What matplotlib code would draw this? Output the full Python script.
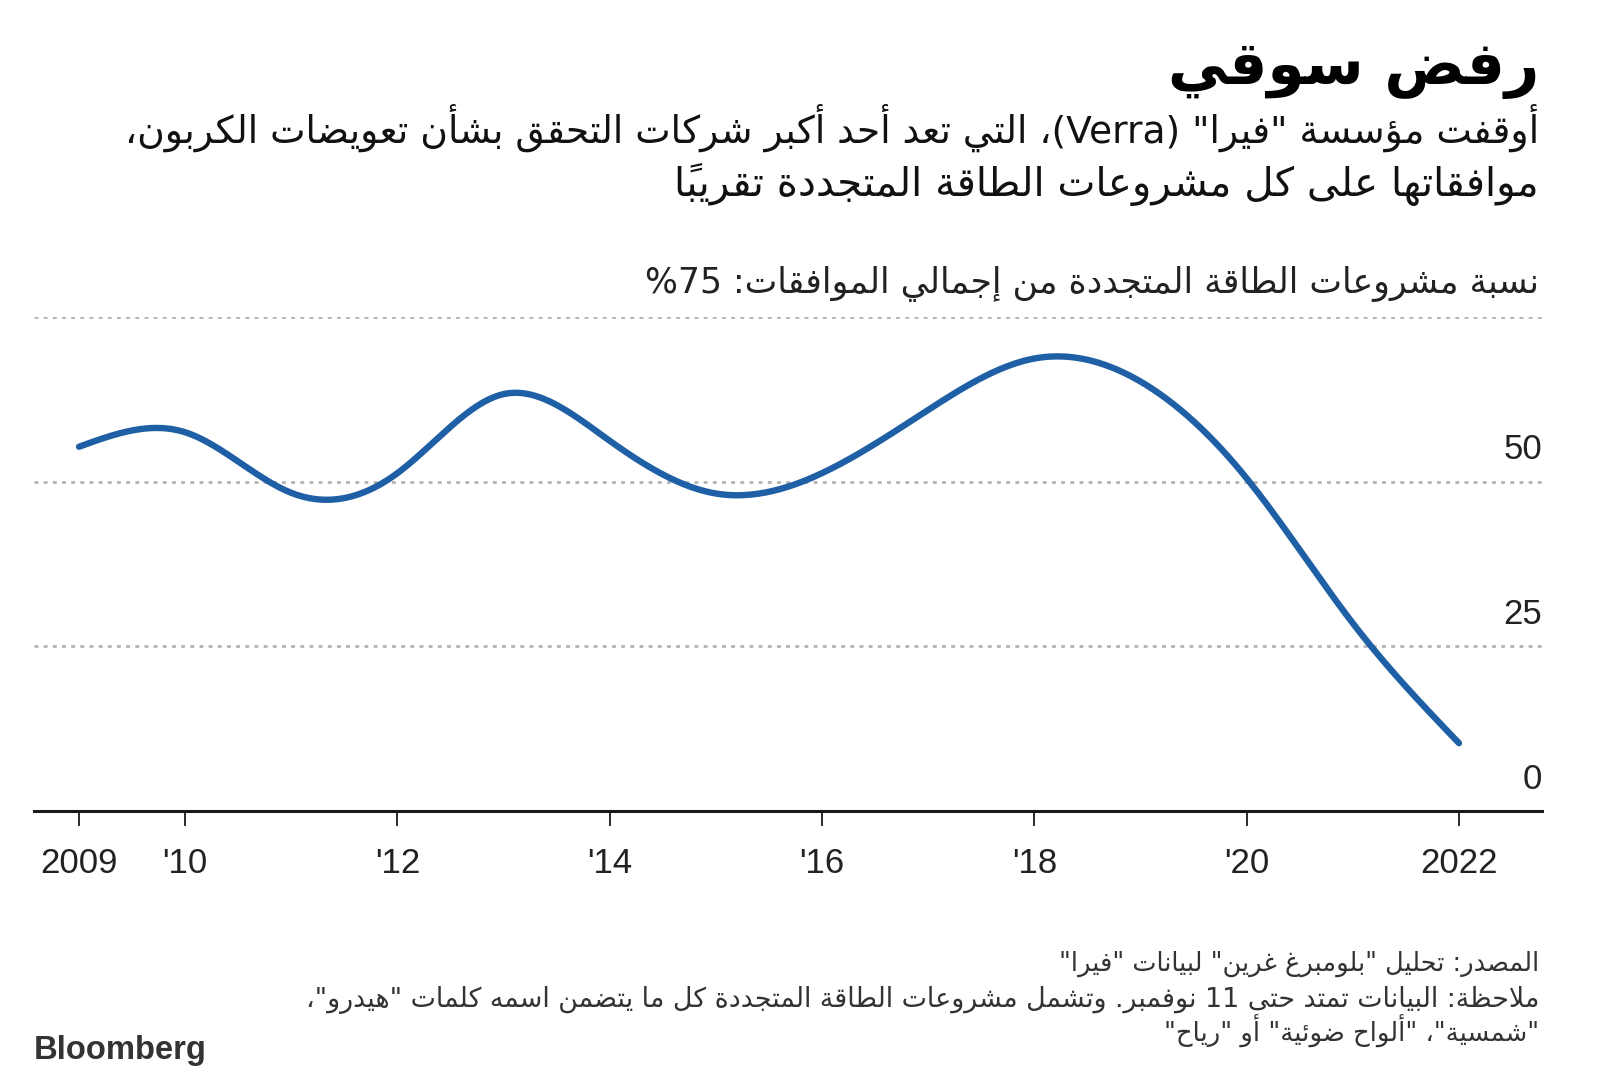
import numpy as np
import matplotlib
matplotlib.use('Agg')
import matplotlib.pyplot as plt
from matplotlib import font_manager

# --- DATOS ---
anios = [2009, 2010, 2011, 2012, 2013, 2014, 2015, 2016, 2017, 2018, 2019, 2020, 2021, 2022]
porcentaje = [55.3, 57.5, 48.3, 51.3, 63.3, 56.2, 48.2, 51.3, 60.9, 68.7, 65.2, 50.5, 28.5, 10.3]

ticks_x = [2009, 2010, 2012, 2014, 2016, 2018, 2020, 2022]
etiquetas_x = ['2009', "'10", "'12", "'14", "'16", "'18", "'20", '2022']
ticks_y = [0, 25, 50, 75]
etiquetas_y = ['0', '25', '50', '']

titulo = 'رفض سوقي'
subtitulo = ['أوقفت مؤسسة "فيرا" (Verra)، التي تعد أحد أكبر شركات التحقق بشأن تعويضات الكربون،',
             'موافقاتها على كل مشروعات الطاقة المتجددة تقريباً']
titulo_eje = 'نسبة مشروعات الطاقة المتجددة من إجمالي الموافقات: 75%'
notas = ['المصدر: تحليل "بلومبرغ غرين" لبيانات "فيرا"',
         'ملاحظة: البيانات تمتد حتى 11 نوفمبر. وتشمل مشروعات الطاقة المتجددة كل ما يتضمن اسمه كلمات "هيدرو"،',
         '"شمسية"، "ألواح ضوئية" أو "رياح"']
logo = 'Bloomberg'

W, H = 1600, 1082
AZUL = '#1f5fa5'


# --- ARABE: formas de presentacion + orden visual (matplotlib no hace shaping) ---
def tabla_formas():
    letras = [(0x0621, 1)] + [(c, 2) for c in range(0x0622, 0x0626)]
    letras += [(0x0626, 4), (0x0627, 2), (0x0628, 4), (0x0629, 2)]
    letras += [(c, 4) for c in range(0x062A, 0x062F)] + [(c, 2) for c in range(0x062F, 0x0633)]
    letras += [(c, 4) for c in range(0x0633, 0x063B)] + [(c, 4) for c in range(0x0641, 0x0648)]
    letras += [(0x0648, 2), (0x0649, 2), (0x064A, 4)]
    formas, base = {}, 0xFE80
    for c, n in letras:
        formas[chr(c)] = (base, n)
        base += n
    return formas


FORMAS = tabla_formas()
MARCAS = {chr(c) for c in range(0x064B, 0x0653)}
LAM_ALEF = {'\u0622': 0xFEF5, '\u0623': 0xFEF7, '\u0625': 0xFEF9, '\u0627': 0xFEFB}
ESPEJO = {'(': ')', ')': '('}


def unir(texto):
    ch = list(texto)
    n = len(ch)
    out = []

    def previo_une(i):
        j = i - 1
        while j >= 0 and ch[j] in MARCAS:
            j -= 1
        return j >= 0 and ch[j] in FORMAS and FORMAS[ch[j]][1] == 4

    def siguiente(i):
        j = i + 1
        while j < n and ch[j] in MARCAS:
            j += 1
        return j

    i = 0
    while i < n:
        c = ch[i]
        if c in FORMAS:
            base, k = FORMAS[c]
            p = previo_une(i)
            j = siguiente(i)
            nx = ch[j] if j < n else None
            if c == '\u0644' and nx in LAM_ALEF:
                out.append(chr(LAM_ALEF[nx] + (1 if p else 0)))
                i = j + 1
                continue
            nj = k == 4 and nx in FORMAS and FORMAS[nx][1] > 1
            if k == 1:
                f = 0
            elif k == 2:
                f = 1 if p else 0
            else:
                f = {(False, False): 0, (True, False): 1, (False, True): 2, (True, True): 3}[(p, nj)]
            out.append(chr(base + f))
        else:
            out.append(c)
        i += 1
    return ''.join(out)


def ar(texto):
    s = unir(texto)
    tramos = []
    for c in s:
        ltr = c.isascii() and c.isalnum()
        if tramos and tramos[-1][0] == ltr:
            tramos[-1][1].append(c)
        else:
            tramos.append([ltr, [c]])
    res = ''
    for ltr, seg in reversed(tramos):
        if ltr:
            res += ''.join(seg)
        else:
            grupos = []
            for c in seg:
                if c in MARCAS and grupos:
                    grupos[-1] += c
                else:
                    grupos.append(ESPEJO.get(c, c))
            res += ''.join(reversed(grupos))
    return res


def spline_natural(x, y, xs):
    x = np.asarray(x, float)
    y = np.asarray(y, float)
    n = len(x)
    h = np.diff(x)
    A = np.zeros((n, n))
    r = np.zeros(n)
    A[0, 0] = A[-1, -1] = 1
    for i in range(1, n - 1):
        A[i, i - 1] = h[i - 1]
        A[i, i] = 2 * (h[i - 1] + h[i])
        A[i, i + 1] = h[i]
        r[i] = 3 * ((y[i + 1] - y[i]) / h[i] - (y[i] - y[i - 1]) / h[i - 1])
    c = np.linalg.solve(A, r)
    b = (y[1:] - y[:-1]) / h - h * (2 * c[:-1] + c[1:]) / 3
    d = (c[1:] - c[:-1]) / (3 * h)
    idx = np.clip(np.searchsorted(x, xs) - 1, 0, n - 2)
    t = xs - x[idx]
    return y[idx] + b[idx] * t + c[idx] * t ** 2 + d[idx] * t ** 3


def texto_fig(fig, x_px, y_px, s, ancho_px, **kw):
    """Texto alineado a la derecha, ajusta el tamano al ancho medido en la referencia"""
    t = fig.text(x_px / W, 1 - y_px / H, s, ha='right', va='baseline', **kw)
    r = fig.canvas.get_renderer()
    w = t.get_window_extent(r).width
    t.set_fontsize(t.get_fontsize() * ancho_px / w)
    return t


nombres = {f.name for f in font_manager.fontManager.ttflist}
FUENTE_NUM = 'Liberation Sans Narrow' if 'Liberation Sans Narrow' in nombres else 'Liberation Sans'
FUENTE_AR = ['DejaVu Sans']

fig = plt.figure(figsize=(16, 10.82), dpi=100)
ax = fig.add_axes([34 / W, 1 - 811 / H, (1542 - 34) / W, (811 - 317) / H])
ax.set_xlim(2008.576, 2022.782)
ax.set_ylim(0, 75)

# linea suavizada
xs = np.linspace(anios[0], anios[-1], 600)
ax.plot(xs, spline_natural(anios, porcentaje, xs), color=AZUL, lw=4.6,
        solid_capstyle='round', clip_on=False, zorder=3)

for s in ['top', 'left', 'right']:
    ax.spines[s].set_visible(False)
ax.spines['bottom'].set_linewidth(2.2)
ax.spines['bottom'].set_color('#1a1a1a')
ax.spines['bottom'].set_zorder(4)

ax.set_yticks(ticks_y)
ax.tick_params(axis='y', length=0, labelleft=False)
ax.grid(axis='y', linestyle=(0, (1.4, 1.9)), linewidth=2.0, color='#b3b3b3')
ax.grid(axis='x', visible=False)
for v, etq in zip(ticks_y, etiquetas_y):
    if etq:
        ax.annotate(etq, xy=(1.0, v), xycoords=('axes fraction', 'data'), xytext=(0, 16),
                    textcoords='offset points', ha='right', va='baseline',
                    fontsize=25, family=FUENTE_NUM, color='#222222')

ax.set_xticks(ticks_x)
ax.set_xticklabels(etiquetas_x, family=FUENTE_NUM, fontsize=25, color='#222222')
ax.tick_params(axis='x', direction='out', length=11, width=1.3, pad=15, color='#1a1a1a')

# textos
texto_fig(fig, 1539, 84, ar(titulo), 372, family=FUENTE_AR, weight='bold', fontsize=40, color='#000000')
texto_fig(fig, 1539, 143, ar(subtitulo[0]), 1415, family=FUENTE_AR, fontsize=26, color='#111111')
texto_fig(fig, 1539, 196, ar(subtitulo[1]), 866, family=FUENTE_AR, fontsize=26, color='#111111')
texto_fig(fig, 1539, 293, ar(titulo_eje), 894, family=FUENTE_AR, fontsize=22, color='#222222')
texto_fig(fig, 1539, 971, ar(notas[0]), 478, family=FUENTE_AR, fontsize=17, color='#333333')
texto_fig(fig, 1539, 1007, ar(notas[1]), 1231, family=FUENTE_AR, fontsize=17, color='#333333')
texto_fig(fig, 1539, 1042, ar(notas[2]), 375, family=FUENTE_AR, fontsize=17, color='#333333')
t = fig.text(34 / W, 1 - 1059 / H, logo, ha='left', va='baseline', family='Liberation Sans',
             weight='bold', fontsize=24, color='#333333')
w = t.get_window_extent(fig.canvas.get_renderer()).width
t.set_fontsize(24 * 173 / w)

fig.savefig('out.png', dpi=100, facecolor='white')
plt.close(fig)
